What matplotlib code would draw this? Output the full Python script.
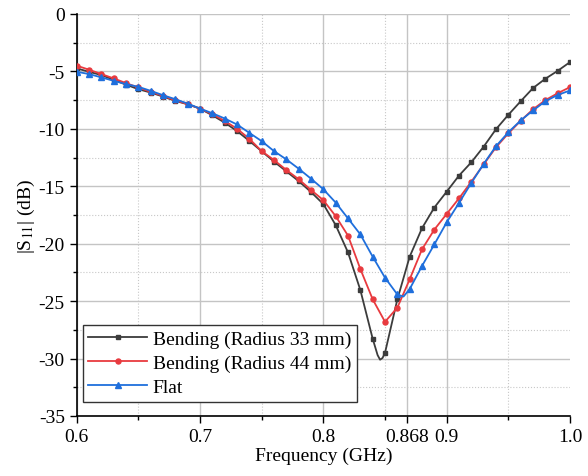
import numpy as np
import matplotlib
matplotlib.use("Agg")
import matplotlib.pyplot as plt
from matplotlib.ticker import FixedLocator, MultipleLocator

# datos (GHz, dB)
freq_r33 = [0.60, 0.61, 0.62, 0.63, 0.64, 0.65, 0.66, 0.67, 0.68, 0.69, 0.70,
            0.71, 0.72, 0.73, 0.74, 0.75, 0.76, 0.77, 0.78, 0.79, 0.80,
            0.81, 0.82, 0.83, 0.84, 0.844, 0.846, 0.848, 0.85, 0.86, 0.87, 0.88, 0.89, 0.90,
            0.91, 0.92, 0.93, 0.94, 0.95, 0.96, 0.97, 0.98, 0.99, 1.00]
s11_r33 = [-4.74, -5.03, -5.32, -5.73, -6.15, -6.55, -6.84, -7.19, -7.57, -7.86, -8.24,
           -8.82, -9.46, -10.19, -11.05, -11.95, -12.85, -13.70, -14.55, -15.50, -16.55,
           -18.38, -20.76, -24.03, -28.27, -29.70, -30.10, -29.95, -29.50, -24.85, -21.13,
           -18.65, -16.85, -15.47,
           -14.07, -12.91, -11.55, -10.03, -8.78, -7.60, -6.45, -5.64, -4.95, -4.19]

freq_r44 = [0.60, 0.61, 0.62, 0.63, 0.64, 0.65, 0.66, 0.67, 0.68, 0.69, 0.70,
            0.71, 0.72, 0.73, 0.74, 0.75, 0.76, 0.77, 0.78, 0.79, 0.80,
            0.81, 0.82, 0.83, 0.84, 0.85, 0.86, 0.87, 0.88, 0.89, 0.90,
            0.91, 0.92, 0.93, 0.94, 0.95, 0.96, 0.97, 0.98, 0.99, 1.00]
s11_r44 = [-4.50, -4.85, -5.23, -5.61, -6.02, -6.40, -6.78, -7.13, -7.52, -7.85, -8.24,
           -8.73, -9.31, -9.99, -10.87, -11.94, -12.72, -13.58, -14.39, -15.32, -16.21,
           -17.60, -19.30, -22.20, -24.84, -26.80, -25.57, -23.10, -20.49, -18.77, -17.41,
           -16.05, -14.60, -13.10, -11.60, -10.40, -9.30, -8.30, -7.50, -6.90, -6.37]

freq_flat = [0.60, 0.61, 0.62, 0.63, 0.64, 0.65, 0.66, 0.67, 0.68, 0.69, 0.70,
             0.71, 0.72, 0.73, 0.74, 0.75, 0.76, 0.77, 0.78, 0.79, 0.80,
             0.81, 0.82, 0.83, 0.84, 0.85, 0.86, 0.865, 0.87, 0.88, 0.89, 0.90,
             0.91, 0.92, 0.93, 0.94, 0.95, 0.96, 0.97, 0.98, 0.99, 1.00]
s11_flat = [-5.03, -5.23, -5.52, -5.82, -6.11, -6.34, -6.69, -7.07, -7.42, -7.80, -8.24,
            -8.64, -9.10, -9.62, -10.35, -11.07, -11.94, -12.66, -13.47, -14.34, -15.26,
            -16.42, -17.80, -19.19, -21.13, -22.96, -24.42, -24.60, -23.95, -21.94, -20.06, -18.14,
            -16.45, -14.71, -13.05, -11.51, -10.30, -9.27, -8.40, -7.60, -7.05, -6.66]

xticks = [0.6, 0.7, 0.8, 0.868, 0.9, 1.0]
xtick_labels = ["0.6", "0.7", "0.8", "0.868", "0.9", "1.0"]


def marcas(freq):
    # marcadores solo en la rejilla de 0.01 GHz
    return [i for i, f in enumerate(freq) if abs(f * 100 - round(f * 100)) < 1e-6]


plt.rcParams['font.family'] = ['Liberation Serif', 'DejaVu Serif']
plt.rcParams['mathtext.fontset'] = 'stix'
plt.rcParams['axes.unicode_minus'] = False
plt.rcParams['font.size'] = 14

fig = plt.figure(figsize=(5.88, 4.77), dpi=100)
ax = fig.add_axes([0.1304, 0.1258, 0.8390, 0.8428])

ax.plot(freq_r33, s11_r33, color='#3c3c3c', lw=1.3, marker='s', ms=3.3,
        markevery=marcas(freq_r33), label='Bending (Radius 33 mm)', zorder=3)
ax.plot(freq_r44, s11_r44, color='#e83a3f', lw=1.3, marker='o', ms=3.6,
        markevery=marcas(freq_r44), label='Bending (Radius 44 mm)', zorder=4)
ax.plot(freq_flat, s11_flat, color='#1f6fdc', lw=1.3, marker='^', ms=4.5,
        markevery=marcas(freq_flat), label='Flat', zorder=5)

ax.set_xlim(0.6, 1.0)
ax.set_ylim(-35, 0)
ax.xaxis.set_major_locator(FixedLocator(xticks))
ax.set_xticklabels(xtick_labels)
ax.xaxis.set_minor_locator(FixedLocator([0.65, 0.75, 0.85, 0.95]))
ax.yaxis.set_major_locator(MultipleLocator(5))
ax.yaxis.set_minor_locator(MultipleLocator(2.5))
ax.tick_params(which='major', direction='out', length=5, width=1, labelsize=14)
ax.tick_params(which='minor', direction='out', length=3, width=1)

ax.grid(True, which='major', color='#c4c4c4', lw=1.0, ls='-')
ax.grid(True, which='minor', color='#c8c8c8', lw=0.8, ls=':')
ax.set_axisbelow(True)
# sin rejilla en los bordes (0 dB y 1.0 GHz)
ax.xaxis.get_major_ticks()[-1].gridline.set_visible(False)
ax.yaxis.get_major_ticks()[-1].gridline.set_visible(False)

ax.spines['top'].set_visible(False)
ax.spines['right'].set_visible(False)
ax.spines['left'].set_linewidth(1.2)
ax.spines['bottom'].set_linewidth(1.2)

ax.set_xlabel('Frequency (GHz)', fontsize=14, labelpad=1)
ax.set_ylabel(r'|S$_{11}$| (dB)', fontsize=14, labelpad=1)

leg = ax.legend(loc='lower left', bbox_to_anchor=(0.0, 0.02), fontsize=14,
                frameon=True, fancybox=False, edgecolor='#333333', framealpha=1,
                handlelength=3.0, handletextpad=0.3, borderpad=0.3,
                labelspacing=0.33, borderaxespad=0.3)
leg.get_frame().set_linewidth(1.0)

fig.savefig('out.png', dpi=100)
